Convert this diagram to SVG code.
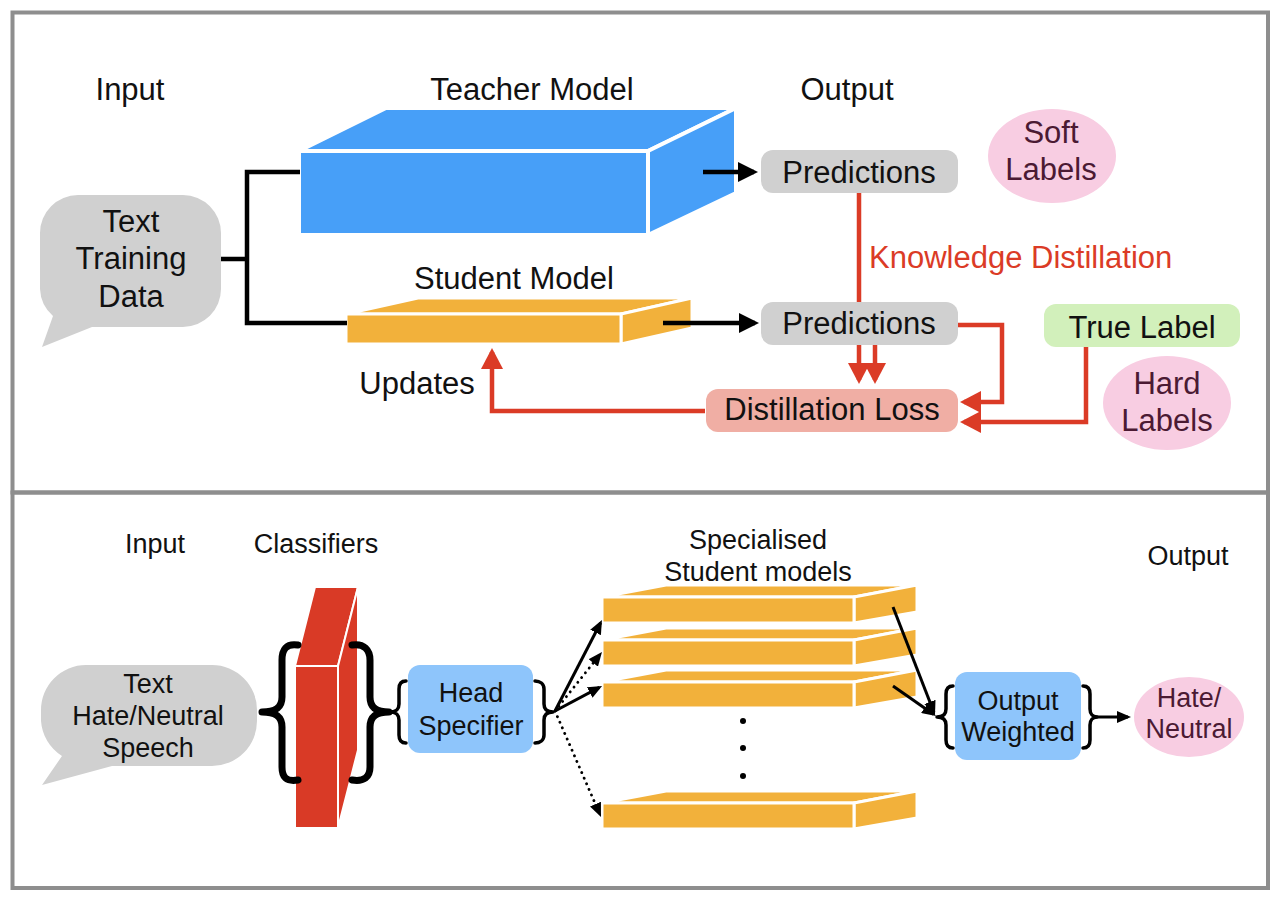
<svg xmlns="http://www.w3.org/2000/svg" width="1280" height="904" viewBox="0 0 1280 904">
<style>
text{font-family:"Liberation Sans",Arial,sans-serif;fill:#111;text-anchor:middle}
.tl{font-size:31px}
.bl{font-size:27px}
.pink{fill:#4b1a33}
.red{fill:#db3b26}
.frame{fill:none;stroke:#8e8e8e;stroke-width:4}
.blk{fill:none;stroke:#000;stroke-width:4.5}
.rd{fill:none;stroke:#db3b26;stroke-width:4.5}
.thin{fill:none;stroke:#000;stroke-width:3}
.dot{fill:none;stroke:#000;stroke-width:2.8;stroke-dasharray:0.1 6;stroke-linecap:round}
.brace{fill:none;stroke:#000;stroke-linecap:round;stroke-linejoin:round}
.blue3d{fill:#479ff8;stroke:#fff;stroke-width:4;stroke-linejoin:round}
.or3d{fill:#f2b13b;stroke:#fff;stroke-width:3;stroke-linejoin:round}
.red3d{fill:#d93a26;stroke:#fff;stroke-width:2;stroke-linejoin:round}
</style>
<defs>
<marker id="ahB" markerUnits="userSpaceOnUse" viewBox="0 0 20 20" markerWidth="20" markerHeight="20" refX="16" refY="10" orient="auto"><path d="M0,0 L20,10 L0,20 Z" fill="#000"/></marker>
<marker id="ahR" markerUnits="userSpaceOnUse" viewBox="0 0 21 22" markerWidth="21" markerHeight="22" refX="17" refY="11" orient="auto"><path d="M0,0 L21,11 L0,22 Z" fill="#db3b26"/></marker>
<marker id="ahT" markerUnits="userSpaceOnUse" viewBox="0 0 14 12" markerWidth="14" markerHeight="12" refX="11" refY="6" orient="auto"><path d="M0,0 L14,6 L0,12 Z" fill="#000"/></marker>
</defs>
<rect width="1280" height="904" fill="#fff"/>
<rect class="frame" x="12.5" y="12.5" width="1255.5" height="480"/>
<rect class="frame" x="12.5" y="492.5" width="1255.5" height="395.5"/>

<!-- top panel -->
<g id="label-input-top"><text class="tl" x="130" y="100">Input</text></g>
<g id="label-output-top"><text class="tl" x="847" y="100">Output</text></g>

<g id="text-training-data">
<path d="M78,195 H183 A38,38 0 0 1 221,233 V289 A38,38 0 0 1 183,327 H92 L42,347 L53,316 A38,38 0 0 1 40,289 V233 A38,38 0 0 1 78,195 Z" fill="#d0d0d0"/>
<text class="tl" x="131" y="232">Text</text>
<text class="tl" x="131" y="269">Training</text>
<text class="tl" x="131" y="307">Data</text>
</g>

<g id="teacher-model">
<polygon class="blue3d" points="299,151 386,108 736,108 648,151"/>
<polygon class="blue3d" points="648,151 736,108 736,193 648,235"/>
<rect class="blue3d" x="299" y="151" width="349" height="84"/>
<text class="tl" x="532" y="100">Teacher Model</text>
</g>

<g id="student-model">
<polygon class="or3d" points="346,314 418,298 692,298 621,314"/>
<polygon class="or3d" points="621,314 692,298 692,328 621,344"/>
<rect class="or3d" x="346" y="314" width="275" height="30"/>
<text class="tl" x="514" y="289">Student Model</text>
</g>

<g id="predictions-teacher">
<rect x="761" y="150" width="197" height="43" rx="12" fill="#d0d0d0"/>
<text class="tl" x="859" y="183">Predictions</text>
</g>
<g id="predictions-student">
<rect x="761" y="302" width="197" height="43" rx="12" fill="#d0d0d0"/>
<text class="tl" x="859" y="334">Predictions</text>
</g>

<g id="soft-labels">
<ellipse cx="1052" cy="156" rx="64" ry="47" fill="#f8cde2"/>
<text class="tl pink" x="1051" y="143">Soft</text>
<text class="tl pink" x="1051" y="180">Labels</text>
</g>

<g id="knowledge-distillation"><text class="tl red" x="869" y="268" style="text-anchor:start">Knowledge Distillation</text></g>

<g id="true-label">
<rect x="1044" y="304" width="196" height="43" rx="12" fill="#d2f0bb"/>
<text class="tl" x="1142" y="338">True Label</text>
</g>

<g id="hard-labels">
<ellipse cx="1167" cy="403" rx="64" ry="47" fill="#f8cde2"/>
<text class="tl pink" x="1167" y="394">Hard</text>
<text class="tl pink" x="1167" y="431">Labels</text>
</g>

<g id="distillation-loss">
<rect x="706" y="389" width="252" height="43" rx="12" fill="#f0aea4"/>
<text class="tl" x="832" y="420">Distillation Loss</text>
</g>

<g id="updates"><text class="tl" x="417" y="394">Updates</text></g>

<!-- bottom panel -->
<g id="label-input-bottom"><text class="bl" x="155" y="553">Input</text></g>
<g id="label-classifiers"><text class="bl" x="316" y="553">Classifiers</text></g>
<g id="label-specialised"><text class="bl" x="758" y="549">Specialised</text><text class="bl" x="758" y="581">Student models</text></g>
<g id="label-output-bottom"><text class="bl" x="1188" y="565">Output</text></g>

<g id="text-hate-speech">
<path d="M86,665 H212 A45,45 0 0 1 257,710 V721 A45,45 0 0 1 212,766 H112 L42,785 L62,756 A45,45 0 0 1 41,721 V710 A45,45 0 0 1 86,665 Z" fill="#d0d0d0"/>
<text class="bl" x="148" y="693">Text</text>
<text class="bl" x="148" y="725">Hate/Neutral</text>
<text class="bl" x="148" y="757">Speech</text>
</g>

<g id="classifiers">
<polygon class="red3d" points="295,666 315,587 358,587 338,666"/>
<polygon class="red3d" points="338,666 358,587 358,750 338,828"/>
<rect class="red3d" x="295" y="666" width="43" height="162"/>
<path class="brace" stroke-width="7" d="M298,645 C286,643 282,650 282,660 L282,697 C282,708 275,712 262,712 C275,712 282,716 282,727 L282,767 C282,777 286,782 298,780"/>
<path class="brace" stroke-width="7" d="M352,645 C364,643 370,650 370,660 L370,697 C370,708 377,712 389,712 C377,712 370,716 370,727 L370,767 C370,777 364,782 352,780"/>
</g>

<g id="head-specifier">
<path class="brace" stroke-width="3.5" d="M389,712 H392 M406,681 C401,681 399,684 399,689 L399,704 C399,709 396,712 391,712 C396,712 399,715 399,720 L399,735 C399,740 401,743 406,743"/>
<rect x="408" y="665" width="125" height="88" rx="12" fill="#8ec5fb"/>
<text class="bl" x="471" y="702">Head</text>
<text class="bl" x="471" y="735">Specifier</text>
<path class="brace" stroke-width="3.5" d="M535,681 C540,681 544,684 544,689 L544,704 C544,709 547,712 553,712 C547,712 544,715 544,720 L544,735 C544,740 540,743 535,743"/>
</g>

<g id="student-1">
<polygon class="or3d" points="602,597 666,585 917,585 854,597"/>
<polygon class="or3d" points="854,597 917,585 917,612 854,623"/>
<rect class="or3d" x="602" y="597" width="252" height="26"/>
</g>
<g id="student-2">
<polygon class="or3d" points="602,640 666,628 917,628 854,640"/>
<polygon class="or3d" points="854,640 917,628 917,655 854,666"/>
<rect class="or3d" x="602" y="640" width="252" height="26"/>
</g>
<g id="student-3">
<polygon class="or3d" points="602,682 666,670 917,670 854,682"/>
<polygon class="or3d" points="854,682 917,670 917,697 854,708"/>
<rect class="or3d" x="602" y="682" width="252" height="26"/>
</g>
<g id="ellipsis">
<circle cx="743" cy="721" r="3"/><circle cx="743" cy="748" r="3"/><circle cx="743" cy="776" r="3"/>
</g>
<g id="student-4">
<polygon class="or3d" points="602,803 666,791 917,791 854,803"/>
<polygon class="or3d" points="854,803 917,791 917,818 854,829"/>
<rect class="or3d" x="602" y="803" width="252" height="26"/>
</g>

<g id="output-weighted">
<path class="brace" stroke-width="3.5" d="M953,686 C948,686 946,689 946,694 L946,709 C946,714 943,717 937,717 C943,717 946,720 946,725 L946,740 C946,745 948,748 953,748"/>
<rect x="955" y="672" width="126" height="88" rx="12" fill="#8ec5fb"/>
<text class="bl" x="1018" y="710">Output</text>
<text class="bl" x="1018" y="741">Weighted</text>
<path class="brace" stroke-width="3.5" d="M1083,686 C1088,686 1090,689 1090,694 L1090,709 C1090,714 1093,717 1097,717 C1093,717 1090,720 1090,725 L1090,740 C1090,745 1088,748 1083,748"/>
</g>

<g id="hate-neutral">
<ellipse cx="1189" cy="717" rx="55" ry="40" fill="#f8cde2"/>
<text class="bl pink" x="1189" y="707">Hate/</text>
<text class="bl pink" x="1189" y="738">Neutral</text>
</g>

<g id="connectors">
<path class="blk" d="M221,259 H247 M300,172 H247 V323 H347"/>
<path class="blk" d="M703,172 H754" marker-end="url(#ahB)"/>
<path class="blk" d="M663,323 H755" marker-end="url(#ahB)"/>
<path class="rd" d="M859,193 V302"/>
<path class="rd" d="M859,345 V380" marker-end="url(#ahR)"/>
<path class="rd" d="M875,345 V380" marker-end="url(#ahR)"/>
<path class="rd" d="M958,325 H1002 V402 H964" marker-end="url(#ahR)"/>
<path class="rd" d="M1086,347 V422 H964" marker-end="url(#ahR)"/>
<path class="rd" d="M705,411 H492 V352" marker-end="url(#ahR)"/>
<path class="thin" d="M555,711 L600.6,622.7" marker-end="url(#ahT)"/>
<path class="dot" d="M555,711 L600.1,654.3" marker-end="url(#ahT)"/>
<path class="thin" d="M555,711 L599.4,687.4" marker-end="url(#ahT)"/>
<path class="dot" d="M555,711 L599.8,814.2" marker-end="url(#ahT)"/>
<path class="thin" d="M893,607 L933.9,712.2" marker-end="url(#ahT)"/>
<path class="thin" d="M893,686 L933.5,714.3" marker-end="url(#ahT)"/>
<path class="thin" d="M1096,717 H1128" marker-end="url(#ahT)"/>
</g>
</svg>
